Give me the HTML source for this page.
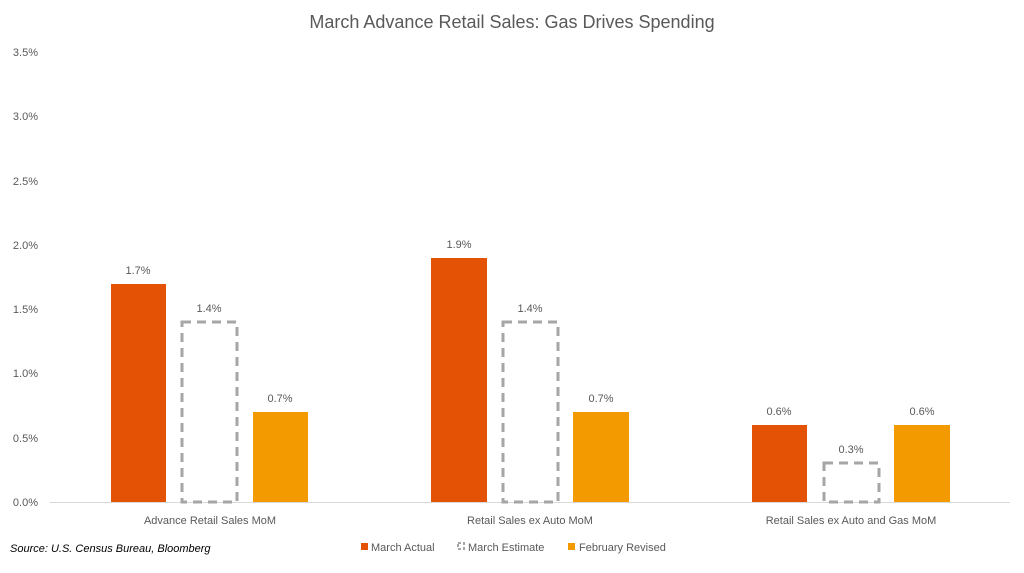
<!DOCTYPE html>
<html><head><style>
body{margin:0;background:#fff;font-family:"Liberation Sans",Calibri,sans-serif;}
svg text{font-family:"Liberation Sans",sans-serif;fill:#595959;}
</style></head><body>
<svg width="1024" height="568" viewBox="0 0 1024 568" xmlns="http://www.w3.org/2000/svg">
<text x="512" y="28" font-size="18" text-anchor="middle">March Advance Retail Sales: Gas Drives Spending</text>
<g font-size="11" text-anchor="end">
<text x="38" y="506">0.0%</text>
<text x="38" y="442">0.5%</text>
<text x="38" y="377">1.0%</text>
<text x="38" y="313">1.5%</text>
<text x="38" y="249">2.0%</text>
<text x="38" y="185">2.5%</text>
<text x="38" y="120">3.0%</text>
<text x="38" y="56">3.5%</text>
</g>
<line x1="50" y1="502.5" x2="1010" y2="502.5" stroke="#d9d9d9" stroke-width="1"/>
<!-- group 1 -->
<rect x="111" y="284" width="55" height="218" fill="#E35205"/>
<rect x="182" y="322" width="55" height="180" fill="none" stroke="#a6a6a6" stroke-width="3" stroke-dasharray="9,6"/>
<rect x="253" y="412" width="55" height="90" fill="#F29A00"/>
<!-- group 2 -->
<rect x="431" y="258" width="56" height="244" fill="#E35205"/>
<rect x="503" y="322" width="55" height="180" fill="none" stroke="#a6a6a6" stroke-width="3" stroke-dasharray="9,6"/>
<rect x="573" y="412" width="56" height="90" fill="#F29A00"/>
<!-- group 3 -->
<rect x="752" y="425" width="55" height="77" fill="#E35205"/>
<rect x="824" y="463" width="55" height="39" fill="none" stroke="#a6a6a6" stroke-width="3" stroke-dasharray="9,6"/>
<rect x="894" y="425" width="56" height="77" fill="#F29A00"/>
<g font-size="11" text-anchor="middle">
<text x="138" y="274">1.7%</text>
<text x="209" y="312">1.4%</text>
<text x="280" y="402">0.7%</text>
<text x="459" y="248">1.9%</text>
<text x="530" y="312">1.4%</text>
<text x="601" y="402">0.7%</text>
<text x="779" y="415">0.6%</text>
<text x="851" y="453">0.3%</text>
<text x="922" y="415">0.6%</text>
<text x="210" y="524">Advance Retail Sales MoM</text>
<text x="530" y="524">Retail Sales ex Auto MoM</text>
<text x="851" y="524">Retail Sales ex Auto and Gas MoM</text>
</g>
<text x="10" y="552" font-size="11" font-style="italic" style="fill:#000">Source: U.S. Census Bureau, Bloomberg</text>
<g font-size="11">
<rect x="361" y="543" width="7" height="7" fill="#E35205"/>
<text x="371" y="551">March Actual</text>
<rect x="458" y="543" width="6" height="6" fill="none" stroke="#a6a6a6" stroke-width="2" stroke-dasharray="3,2"/>
<text x="468" y="551">March Estimate</text>
<rect x="568" y="543" width="7" height="7" fill="#F29A00"/>
<text x="579" y="551">February Revised</text>
</g>
</svg>
</body></html>
